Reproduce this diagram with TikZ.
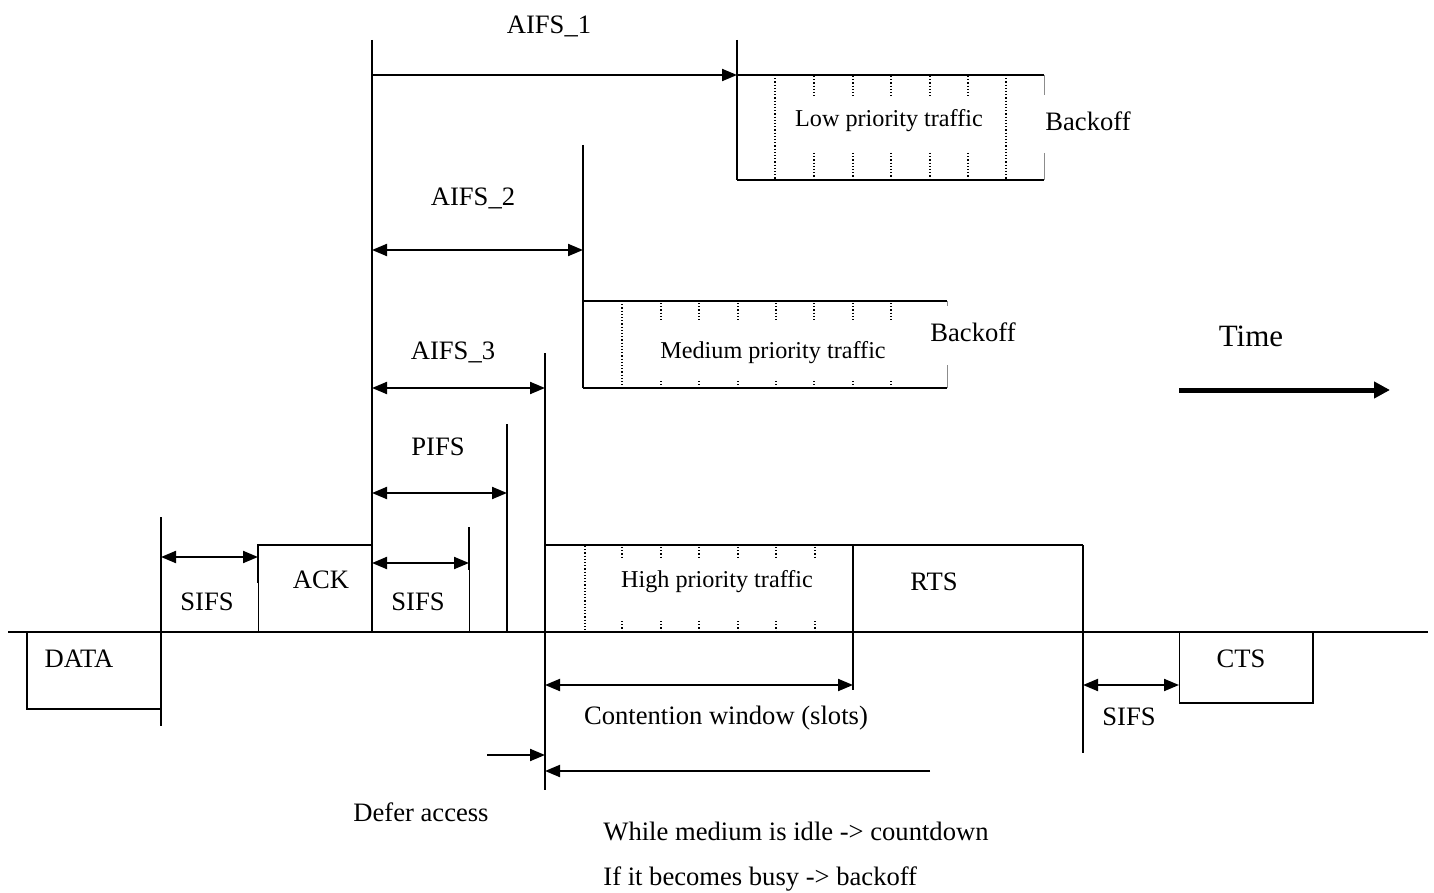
\documentclass[tikz,border=0pt]{standalone}
\usepackage{fontspec}
\setmainfont{Liberation Serif}[Ligatures=NoCommon]
\usetikzlibrary{arrows.meta}
\begin{document}
\begin{tikzpicture}[x=0.5pt,y=-0.5pt,
  lbl/.style={inner sep=0pt,font=\fontsize{13.3}{16}\selectfont},
  traffic/.style={inner sep=0pt,font=\fontsize{12.1}{14}\selectfont},
  wire/.style={line width=1pt},
  fine/.style={line width=0.5pt},
  faint/.style={line width=0.5pt,black!45},
  slot/.style={line width=0.6pt,dash pattern=on 0.6pt off 1pt},
  tip/.tip={Triangle[length=7.5pt,width=6pt]},
  dim/.style={line width=1pt,tip-tip},
  oneway/.style={line width=1pt,-tip},
]
\useasboundingbox (0,0) rectangle (1434,893);

% ---- key instants on the time axis
\coordinate (tData)  at (161,632);
\coordinate (tAckL)  at (258,632);
\coordinate (tAckR)  at (372,632);
\coordinate (tSifs)  at (469,632);
\coordinate (tPifs)  at (507,632);
\coordinate (tA3)    at (545,632);
\coordinate (tRtsL)  at (853,632);
\coordinate (tRtsR)  at (1083,632);
\coordinate (tCtsL)  at (1179,632);
\coordinate (tCtsR)  at (1313,632);

% ---- time axis
\coordinate (axL) at (8,632);
\coordinate (axR) at (1428,632);
\draw[wire] (axL) -- (axR);

% ---- DATA frame (below the axis)
\coordinate (dataBL) at (27,709);
\coordinate (dataBR) at (161,709);
\draw[wire] (27,632) -- (dataBL) -- (dataBR);
\draw[wire] (161,517) -- (161,726);
\node[lbl] (data) at (79,659) {DATA};

% ---- SIFS then ACK
\coordinate (s1a) at (161,557);
\coordinate (s1b) at (258,557);
\draw[dim] (s1a) -- (s1b);
\node[lbl] (sifs1) at (207,602) {SIFS};
\draw[wire] (258,583) -- (258,545) -- (372,545);
\draw[fine] (258,583) -- (tAckL);
\node[lbl] (ack) at (321,580) {ACK};

% ---- reference instant for the interframe spaces
\draw[wire] (372,40) -- (tAckR);

% ---- SIFS after ACK
\coordinate (s2a) at (372,563);
\coordinate (s2b) at (469,563);
\draw[fine] (469,527) -- (tSifs);
\draw[wire] (469,527) -- (469,570);
\draw[dim] (s2a) -- (s2b);
\node[lbl] (sifs2) at (418,602) {SIFS};

% ---- PIFS
\coordinate (pa) at (372,493);
\coordinate (pb) at (507,493);
\draw[wire] (507,424) -- (tPifs);
\draw[dim] (pa) -- (pb);
\node[lbl] (pifs) at (438,447) {PIFS};

% ---- AIFS_3
\coordinate (a3a) at (372,388);
\coordinate (a3b) at (545,388);
\draw[wire] (545,353) -- (545,790);
\draw[dim] (a3a) -- (a3b);
\node[lbl] (aifs3) at (453,352) {AIFS\_3};

% ---- AIFS_2
\coordinate (a2a) at (372,250);
\coordinate (a2b) at (583,250);
\draw[wire] (583,145) -- (583,388);
\draw[dim] (a2a) -- (a2b);
\node[lbl] (aifs2) at (473,198) {AIFS\_2};

% ---- AIFS_1
\coordinate (a1a) at (372,75);
\coordinate (a1b) at (737,75);
\draw[wire] (737,40) -- (737,180);
\draw[oneway] (a1a) -- (a1b);
\node[lbl] (aifs1) at (549,26) {AIFS\_1};

% ---- low priority backoff window
\draw[wire] (737,75) -- (1044,75);
\draw[wire] (737,180) -- (1044,180);
\draw[faint] (1044,75) -- (1044,95);
\draw[faint] (1044,153) -- (1044,180);
\foreach \x in {775,1006} \draw[slot] (\x,75) -- (\x,180);
\foreach \x in {814,853,891,930,968} {
  \draw[slot] (\x,76) -- (\x,96);
  \draw[slot] (\x,153) -- (\x,179);
}
\node[traffic] (low) at (889,121) {Low priority traffic};
\node[lbl] (bo1) at (1088,121) {Backoff};

% ---- medium priority backoff window
\draw[wire] (583,301) -- (947,301);
\draw[wire] (583,388) -- (947,388);
\draw[faint] (947,301) -- (947,306);
\draw[faint] (947,365) -- (947,388);
\draw[slot] (622,301) -- (622,388);
\foreach \x in {661,699,738,776,814,853,891} {
  \draw[slot] (\x,303) -- (\x,322);
  \draw[slot] (\x,381) -- (\x,387);
}
\node[traffic] (med) at (773,353) {Medium priority traffic};
\node[lbl] (bo2) at (973,332) {Backoff};

% ---- high priority backoff window and RTS
\draw[wire] (545,545) -- (1083,545);
\draw[wire] (853,545) -- (853,690);
\draw[wire] (1083,545) -- (1083,753);
\draw[slot] (585,546) -- (585,631);
\foreach \x in {622,661,699,738,776,815} {
  \draw[slot] (\x,547) -- (\x,557);
  \draw[slot] (\x,621) -- (\x,631);
}
\node[traffic] (high) at (717,582) {High priority traffic};
\node[lbl] (rts) at (934,582) {RTS};

% ---- contention window
\coordinate (cwa) at (545,685);
\coordinate (cwb) at (853,685);
\draw[dim] (cwa) -- (cwb);
\node[lbl] (cw) at (726,718) {Contention window (slots)};

% ---- defer access and countdown
\coordinate (dfa) at (487,755);
\coordinate (dfb) at (545,755);
\draw[oneway] (dfa) -- (dfb);
\node[lbl] (defer) at (421,812) {Defer access};
\coordinate (cda) at (930,771);
\coordinate (cdb) at (545,771);
\draw[oneway] (cda) -- (cdb);
\node[lbl,anchor=west] (idle) at (603,831) {While medium is idle -> countdown};
\node[lbl,anchor=west] (busy) at (603,879) {If it becomes busy -> backoff};

% ---- SIFS then CTS
\coordinate (s3a) at (1083,685);
\coordinate (s3b) at (1179,685);
\draw[dim] (s3a) -- (s3b);
\node[lbl] (sifs3) at (1129,717) {SIFS};
\draw[fine] (tCtsL) -- (1179,703);
\draw[wire] (1179,703) -- (1313,703) -- (tCtsR);
\node[lbl] (cts) at (1241,659) {CTS};

% ---- direction of time
\node[inner sep=0pt,font=\fontsize{15.5}{18}\selectfont] (time) at (1251,336) {Time};
\coordinate (ta) at (1179,390);
\coordinate (tb) at (1390,390);
\draw[line width=2.5pt,-{Triangle[length=8pt,width=8pt]}] (ta) -- (tb);
\end{tikzpicture}
\end{document}
